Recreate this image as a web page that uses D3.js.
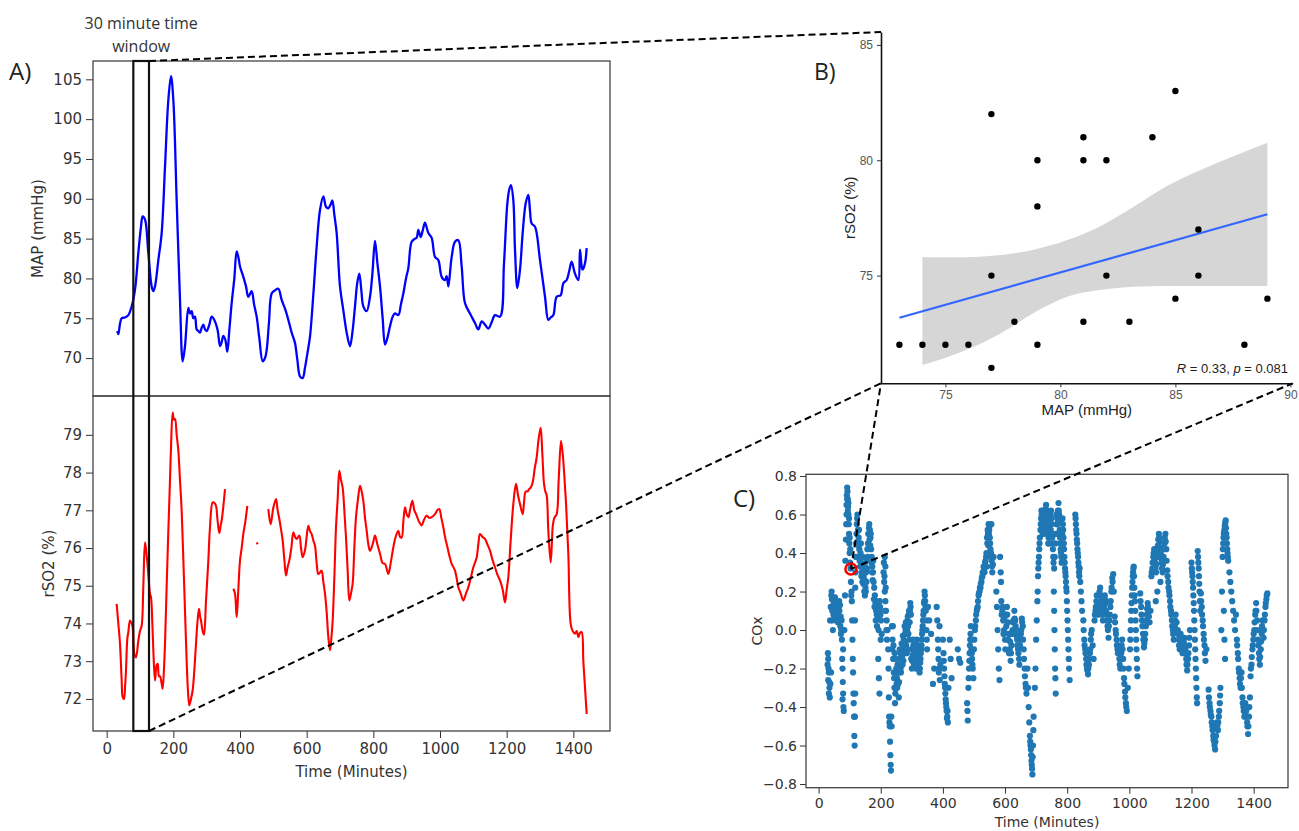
<!DOCTYPE html>
<html lang="en">
<head>
<meta charset="UTF-8">
<title>MAP, rSO2 and COx</title>
<script src="https://d3js.org/d3.v7.min.js"></script>
<style>
  body { margin: 0; background: #fff; }
  svg { display: block; }
  .tick text { font-family: 'DejaVu Sans', sans-serif; fill: #333; }
  .lbl { font-family: 'DejaVu Sans', sans-serif; fill: #333; }
  .gg .tick text { font-family: 'Liberation Sans', Arial, sans-serif; fill: #555; }
  .panel-tag { font-family: 'Open Sans', sans-serif; fill: #222; }
</style>
</head>
<body>
<div id="chart"></div>
<script>
// ---- Panel A: MAP and rSO2 over time [minute, value] ----
const mapSeries = [[32,73.4],[35,73.0],[40,74.3],[45,75.0],[55,75.1],[65,75.4],[75,76.5],[85,78.6],[95,83.2],[103,86.5],[108,87.8],[115,87.4],[125,83.2],[135,79.0],[140,78.4],[145,79.0],[155,82.3],[165,85.7],[175,94.0],[185,102.4],[193,105.4],[200,102.4],[210,89.8],[220,77.3],[228,69.6],[235,71.5],[245,76.3],[250,75.6],[255,75.9],[260,75.0],[265,75.2],[270,73.6],[275,73.4],[280,73.2],[285,73.8],[290,74.2],[295,73.6],[300,73.4],[308,74.2],[315,75.2],[325,74.6],[333,73.5],[340,71.5],[345,72.0],[350,72.8],[356,72.3],[362,70.8],[368,73.5],[375,76.9],[383,80.0],[390,83.4],[395,82.7],[400,81.5],[410,80.2],[418,79.0],[425,77.7],[435,78.4],[442,76.8],[450,75.2],[458,72.5],[468,69.6],[475,70.0],[480,71.0],[487,74.5],[495,78.1],[505,78.5],[515,78.7],[525,77.3],[535,76.2],[545,74.8],[555,73.2],[565,71.9],[572,69.8],[580,67.7],[588,67.5],[595,68.8],[603,70.8],[610,72.7],[620,78.0],[630,84.0],[640,88.6],[650,90.3],[658,89.0],[665,88.8],[672,89.3],[677,89.8],[683,88.0],[690,85.7],[700,79.0],[710,76.0],[720,73.2],[730,71.5],[738,73.5],[745,76.5],[752,79.5],[758,80.6],[764,78.5],[770,76.5],[780,75.9],[790,77.7],[797,80.5],[805,84.7],[812,82.0],[820,79.0],[828,75.0],[835,71.7],[842,72.5],[850,74.0],[858,75.2],[865,75.6],[875,75.4],[883,76.8],[890,78.1],[898,80.0],[905,81.3],[915,84.6],[925,85.0],[930,85.1],[935,86.1],[942,85.2],[948,86.0],[955,87.0],[965,85.7],[975,85.1],[985,82.7],[995,82.3],[1005,80.2],[1015,79.8],[1020,80.3],[1025,79.0],[1035,82.7],[1045,84.6],[1055,84.8],[1065,81.5],[1075,76.9],[1090,75.6],[1105,74.4],[1115,73.6],[1125,74.6],[1135,74.2],[1145,73.7],[1155,74.5],[1165,75.4],[1180,75.2],[1192,81.9],[1202,89.4],[1208,91.2],[1213,91.7],[1220,89.8],[1225,83.6],[1232,78.8],[1240,81.1],[1248,85.7],[1257,89.4],[1265,90.5],[1270,88.5],[1275,86.9],[1285,86.5],[1300,82.3],[1315,77.7],[1325,74.8],[1332,75.1],[1340,75.4],[1350,77.7],[1362,77.9],[1370,79.4],[1380,79.8],[1388,81.0],[1395,82.1],[1405,80.6],[1415,79.8],[1420,83.6],[1425,81.5],[1428,81.1],[1435,81.9],[1440,83.8]];

// null value = gap in recording
const rso2Series = [[30,74.52],[35,74.0],[40,73.46],[45,72.5],[48,72.05],[52,72.0],[55,72.3],[58,72.76],[62,73.6],[65,73.77],[70,74.08],[75,74.0],[78,73.9],[83,73.2],[88,73.1],[95,73.55],[100,73.8],[105,73.94],[110,75.0],[115,76.15],[120,75.8],[125,75.31],[130,74.79],[133,74.7],[137,74.0],[140,73.29],[145,72.49],[150,72.9],[153,72.93],[157,72.6],[160,72.6],[165,72.4],[168,72.27],[172,72.8],[175,73.46],[180,75.0],[185,76.45],[190,77.8],[193,78.66],[198,79.59],[202,79.4],[205,79.42],[210,79.0],[215,78.58],[220,77.8],[225,76.99],[230,75.7],[235,74.34],[240,73.0],[244,72.2],[248,71.83],[253,72.0],[258,72.23],[263,72.76],[268,73.46],[273,74.1],[277,74.39],[280,74.2],[283,74.08],[288,73.8],[292,73.7],[298,74.6],[305,75.67],[310,76.55],[318,77.21],[323,77.2],[328,77.12],[332,76.8],[335,76.55],[338,76.4],[342,76.6],[345,76.73],[350,77.1],[355,77.56],[356,null],[380,74.92],[385,74.79],[390,74.17],[395,74.9],[400,75.67],[405,76.0],[410,76.38],[416,76.7],[422,77.12],[423,null],[450,76.15],[453,76.1],[454,null],[485,77.03],[492,76.63],[500,77.07],[508,77.3],[513,77.0],[518,76.77],[523,76.5],[528,76.2],[533,75.7],[538,75.27],[543,75.5],[548,75.67],[554,76.0],[560,76.42],[565,76.3],[570,76.24],[578,76.33],[583,76.0],[588,75.76],[595,75.94],[600,76.3],[605,76.59],[610,76.45],[615,76.37],[620,76.2],[625,76.06],[630,75.6],[635,75.31],[640,75.35],[645,75.4],[650,75.1],[655,74.79],[660,74.3],[665,73.64],[670,73.29],[674,73.6],[678,74.08],[683,75.2],[688,76.55],[693,77.3],[698,78.05],[703,77.8],[708,77.6],[713,77.0],[718,76.28],[723,75.4],[728,74.61],[733,74.8],[738,75.06],[743,76.0],[748,76.82],[754,77.3],[760,77.65],[765,77.5],[770,77.25],[775,76.8],[780,76.46],[785,76.1],[790,75.93],[798,76.1],[805,76.33],[812,76.1],[820,75.85],[828,75.6],[835,75.58],[845,75.31],[852,75.6],[860,76.02],[867,76.3],[875,76.46],[880,76.3],[885,76.28],[890,76.7],[895,77.08],[900,76.9],[905,76.82],[910,77.0],[917,77.25],[923,77.0],[930,76.86],[937,76.7],[945,76.6],[952,76.75],[960,76.86],[967,76.8],[975,76.82],[985,76.9],[992,77.0],[998,77.03],[1004,76.8],[1010,76.55],[1015,76.3],[1020,76.11],[1028,75.8],[1035,75.58],[1040,75.5],[1045,75.4],[1050,75.2],[1055,74.96],[1062,74.8],[1070,74.61],[1078,74.8],[1085,74.96],[1092,75.2],[1100,75.49],[1110,75.75],[1115,76.1],[1120,76.37],[1127,76.3],[1135,76.24],[1142,76.1],[1150,75.93],[1157,75.7],[1165,75.49],[1172,75.3],[1180,75.14],[1188,74.9],[1195,74.56],[1200,74.9],[1205,75.23],[1212,76.2],[1220,77.17],[1228,77.7],[1234,77.4],[1240,77.17],[1248,76.9],[1252,77.2],[1257,77.5],[1263,77.5],[1267,77.56],[1272,77.6],[1278,77.74],[1284,78.1],[1290,78.4],[1296,78.9],[1302,79.19],[1307,78.5],[1312,77.7],[1316,77.5],[1320,77.4],[1325,76.46],[1332,75.62],[1336,76.2],[1338,76.55],[1343,76.8],[1350,76.9],[1356,77.8],[1363,78.84],[1368,78.5],[1372,78.05],[1378,77.2],[1385,75.84],[1392,73.99],[1398,73.8],[1405,73.73],[1410,73.8],[1415,73.64],[1420,73.75],[1425,73.77],[1430,73.0],[1435,72.31],[1440,71.6]];

const windowStart = 80, windowEnd = 127;   // 30 minute window (minutes)

// ---- Panel B: MAP vs rSO2 within the window ----
const bMAP  = [73,74,75,76,77,77,77,78,79,79,79,81,81,81,82,82,83,84,85,85,86,86,88,89];
const bRSO2 = [72,72,72,72,82,75,71,73,80,78,72,81,80,73,80,75,73,81,83,74,77,75,72,74];
const fitX = [73, 89], fitY = [73.17, 77.66];
const bandX  = [74, 75.9, 77.4, 78.8, 80.3, 81.7, 83.2, 84.6, 86.1, 87.5, 89];
const bandHi = [75.79, 75.8, 75.89, 76.11, 76.54, 77.12, 77.99, 78.86, 79.58, 80.16, 80.76];
const bandLo = [71.12, 71.77, 72.49, 73.36, 74.08, 74.37, 74.52, 74.55, 74.55, 74.55, 74.55];
const statText = ['R', ' = 0.33, ', 'p', ' = 0.081'];

// ---- Panel C: COx over time [minute, COx] ----
const coxSamples = [[30,-0.12],[31,-0.15],[32,-0.2],[33,-0.22],[34,-0.27],[35,-0.3],[36,-0.35],[38,-0.28],[40,-0.22],[42,0.2],[43,0.16],[44,0.1],[45,0.05],[46,0.0],
[48,0.08],[50,0.12],[52,0.15],[54,0.1],[56,0.06],[58,0.13],[60,0.09],[62,0.04],[64,0.11],[66,0.15],[68,0.07],[70,0.02],[72,-0.02],[74,0.05],
[76,-0.15],[77,-0.2],[78,-0.27],[79,-0.33],[80,-0.4],[81,-0.42],[83,0.0],[85,0.18],[86,0.36],[88,0.47],[90,0.6],[91,0.7],[92,0.74],[93,0.72],[94,0.68],[95,0.64],[96,0.6],[97,0.55],[98,0.5],[99,0.45],[100,0.4],[101,0.35],[103,0.32],
[106,0.2],[107,0.15],[108,0.05],[109,-0.05],[110,-0.15],[111,-0.22],[112,-0.33],[113,-0.38],[114,-0.45],[115,-0.55],[116,-0.6],
[119,0.3],[121,0.45],[123,0.55],[125,0.6],[127,0.52],[129,0.48],[131,0.42],[133,0.38],[135,0.4],[137,0.35],[139,0.3],
[141,0.25],[143,0.32],[145,0.28],[147,0.2],[149,0.18],[151,0.22],[153,0.3],[155,0.36],[157,0.42],[159,0.45],
[161,0.5],[163,0.55],[165,0.52],[167,0.48],[169,0.42],[171,0.38],[173,0.33],[175,0.3],[177,0.25],[179,0.22],
[181,0.18],[183,0.14],[185,0.1],[187,0.08],[189,0.12],[191,0.06],[193,0.0],[195,0.1],[197,0.15],[199,0.08],[201,0.05],[203,-0.02],[192,-0.15],[194,-0.25],[196,-0.33],
[209,0.3],[211,0.25],[213,0.2],[215,0.15],[217,0.1],[219,0.05],[213,0.38],[215,0.33],[222,0.0],
[224,-0.1],[225,-0.2],[226,-0.35],[227,-0.45],[228,-0.48],[229,-0.5],[230,-0.58],[231,-0.65],[232,-0.7],[233,-0.73],
[236,0.02],[238,-0.05],[240,-0.15],[242,-0.22],[244,-0.3],[246,-0.38],[248,-0.3],[250,-0.2],[252,-0.25],[254,-0.18],[256,-0.28],[258,-0.35],[260,-0.22],[262,-0.15],
[264,-0.2],[266,-0.15],[268,-0.1],[270,-0.18],[272,-0.12],[274,-0.05],[276,-0.1],[278,-0.02],[280,0.0],[282,-0.08],[284,-0.12],[286,0.05],[288,0.02],[290,0.08],[292,-0.05],[294,0.1],[296,0.12],[298,-0.15],[300,-0.2],[302,-0.1],[304,-0.05],
[306,-0.1],[308,-0.15],[310,-0.12],[312,-0.18],[314,-0.1],[316,-0.05],[318,-0.12],[320,-0.15],[322,-0.08],[324,-0.12],[326,-0.2],[328,-0.15],[330,-0.1],[332,-0.05],[334,0.0],[336,0.05],[338,0.1],[340,0.15],[342,0.18],[344,0.12],[346,0.05],[348,-0.05],
[352,0.12],[356,0.05],[362,-0.02],[368,-0.28],[372,-0.2],
[380,0.12],[382,0.05],[384,-0.05],[386,-0.15],[388,-0.2],[390,-0.26],[392,-0.18],
[400,-0.05],[402,-0.12],[404,-0.2],[406,-0.28],[408,-0.33],[410,-0.38],[412,-0.42],[414,-0.45],[416,-0.48],[418,-0.3],[422,-0.05],[425,-0.15],[428,-0.25],
[448,-0.1],[452,-0.15],[456,-0.17],
[478,-0.38],[480,-0.47],[482,-0.3],[484,-0.2],[486,-0.12],[488,-0.05],[490,0.02],[492,-0.1],[494,-0.15],[496,-0.2],[498,-0.25],
[500,-0.1],[503,0.0],[506,0.05],[509,0.1],[512,0.12],[515,0.18],[518,0.2],[521,0.22],[524,0.25],[527,0.28],[530,0.3],[533,0.32],[536,0.35],[539,0.38],[541,0.33],
[543,0.45],[545,0.5],[547,0.55],[549,0.52],[551,0.48],[553,0.42],[555,0.4],[557,0.36],[559,0.3],[561,0.34],[563,0.38],[550,0.54],[556,0.55],
[572,0.2],[574,0.12],[576,0.0],[578,-0.1],[580,-0.2],[582,-0.26],[584,0.38],[586,0.3],
[588,0.15],[591,0.1],[594,0.05],[597,0.0],[600,-0.05],[603,0.08],[606,0.12],[609,0.04],[612,-0.02],[615,-0.1],[618,-0.16],[621,-0.08],[624,0.0],[627,0.05],
[630,0.1],[633,0.05],[636,0.0],[639,-0.05],[642,-0.1],[645,-0.15],[648,-0.08],[651,-0.02],[654,0.06],[657,0.02],[660,-0.1],[663,-0.2],[666,-0.28],[669,-0.33],
[672,-0.2],[674,-0.3],[676,-0.4],[678,-0.48],[680,-0.55],[682,-0.6],[684,-0.65],[686,-0.7],[688,-0.75],[690,-0.6],[692,-0.45],
[696,-0.3],[698,-0.2],[700,-0.05],[702,0.05],[704,0.15],[706,0.28],[708,0.35],[710,0.42],[712,0.48],
[714,0.52],[716,0.58],[718,0.6],[720,0.55],[722,0.62],[724,0.58],[726,0.5],[728,0.55],[730,0.6],[732,0.65],[734,0.62],[736,0.57],[738,0.52],[740,0.48],[742,0.45],[744,0.52],[746,0.58],[748,0.62],[750,0.55],[752,0.48],[754,0.42],[756,0.35],[758,0.32],[760,0.38],[762,0.45],[764,0.5],[766,0.55],[768,0.58],[770,0.62],[772,0.66],[774,0.6],[776,0.52],
[757,0.2],[758,0.1],[759,0.0],[760,-0.1],[761,-0.2],[762,-0.25],[763,-0.33],
[778,0.45],[780,0.4],[782,0.35],[784,0.5],[786,0.55],[788,0.48],[790,0.42],[792,0.35],[794,0.3],[796,0.25],[798,0.2],[800,0.1],[802,0.0],[804,-0.1],[806,-0.2],[808,-0.26],
[826,0.6],[828,0.55],[830,0.5],[832,0.45],[834,0.4],[836,0.35],[838,0.3],[840,0.32],[842,0.25],[844,0.2],[846,0.15],[848,0.1],
[852,0.05],[855,-0.05],[858,-0.1],[861,-0.15],[864,-0.2],[867,-0.23],[870,-0.18],[873,-0.12],[876,-0.05],[879,0.0],[882,-0.08],[885,-0.15],
[888,0.05],[891,0.1],[894,0.15],[897,0.12],[900,0.08],[903,0.18],[906,0.22],[909,0.15],[912,0.1],[915,0.05],[918,0.12],[921,0.18],[924,0.14],[927,0.08],[930,0.02],[933,-0.04],[936,0.05],[939,0.12],[942,0.2],[945,0.27],[948,0.29],[950,0.2],
[953,0.07],[956,0.0],[959,-0.05],[962,-0.1],[965,-0.08],[968,-0.15],[971,-0.2],[974,-0.12],[977,-0.05],[980,-0.15],[983,-0.25],[986,-0.32],[989,-0.38],[992,-0.42],[995,-0.3],[998,-0.2],
[1002,-0.1],[1004,0.0],[1006,0.1],[1008,0.18],[1010,0.25],[1012,0.3],[1014,0.33],[1016,0.22],[1018,0.15],[1020,0.05],[1022,-0.05],[1024,-0.15],[1026,-0.24],
[1035,0.19],[1038,0.12],[1041,0.05],[1044,-0.02],[1047,-0.09],[1050,-0.05],[1053,0.02],[1056,0.08],[1059,0.14],[1062,0.1],[1065,0.04],[1068,0.1],
[1071,0.28],[1074,0.32],[1077,0.38],[1080,0.42],[1083,0.35],[1086,0.3],[1089,0.38],[1092,0.44],[1095,0.5],[1098,0.46],[1101,0.4],[1104,0.35],[1107,0.3],[1110,0.38],[1113,0.45],[1116,0.5],[1119,0.42],[1085,0.15],[1090,0.2],[1100,0.25],
[1122,0.31],[1125,0.25],[1128,0.2],[1131,0.15],[1134,0.1],[1137,0.05],[1140,0.0],[1143,-0.05],[1146,0.02],[1149,0.08],[1152,0.04],
[1156,0.0],[1159,-0.05],[1162,-0.1],[1165,-0.02],[1168,-0.06],[1171,-0.12],[1174,-0.08],[1177,-0.04],[1180,-0.1],[1183,-0.15],[1186,-0.21],[1189,-0.15],[1192,-0.08],[1195,0.0],
[1200,0.35],[1202,0.3],[1204,0.25],[1206,0.18],[1208,0.1],[1210,0.0],[1212,-0.1],[1214,-0.2],[1216,-0.3],[1218,-0.38],[1220,0.41],[1222,0.35],[1224,0.28],[1226,0.2],[1228,0.1],
[1230,0.19],[1233,0.12],[1236,0.05],[1239,-0.02],[1242,-0.08],[1245,-0.16],[1248,-0.1],
[1255,-0.31],[1258,-0.38],[1261,-0.42],[1264,-0.45],[1267,-0.5],[1270,-0.55],[1273,-0.58],[1276,-0.62],[1279,-0.55],[1282,-0.48],[1285,-0.52],[1288,-0.45],[1291,-0.38],[1293,-0.3],
[1296,0.0],[1298,0.2],[1300,0.38],[1302,0.45],[1304,0.5],[1306,0.52],[1308,0.55],[1310,0.57],[1312,0.5],[1314,0.45],[1316,0.4],[1318,0.36],[1304,0.1],[1306,-0.05],[1308,-0.15],
[1322,0.3],[1325,0.25],[1328,0.2],[1331,0.15],[1334,0.1],[1337,0.05],[1340,0.0],[1343,0.08],
[1346,-0.05],[1349,-0.12],[1352,-0.2],[1355,-0.25],[1358,-0.3],[1361,-0.22],[1364,-0.35],[1367,-0.4],[1370,-0.45],[1373,-0.38],[1376,-0.42],[1379,-0.48],[1382,-0.54],[1385,-0.45],[1388,-0.35],
[1390,-0.24],[1393,-0.18],[1396,-0.1],[1399,-0.05],[1402,0.0],[1405,0.08],[1408,0.14],[1411,0.05],[1414,-0.05],[1417,-0.12],[1420,-0.18],[1423,-0.1],[1426,-0.02],[1429,0.05],
[1432,-0.04],[1435,0.05],[1438,0.12],[1441,0.16],[1444,0.19],
// denser fill of the same streaks
[29,-0.18],[31,-0.26],[33,-0.33],[37,0.05],[39,0.12],[41,0.18],[47,0.12],[49,0.14],[51,0.06],[53,0.17],[55,0.12],[57,0.09],[59,0.05],[61,0.13],[63,0.08],[65,0.05],[67,0.1],[69,0.13],[71,0.07],[73,0.0],[75,-0.05],[77,-0.36],[79,-0.1],
[89,0.55],[90,0.65],[92,0.68],[94,0.62],[96,0.66],[98,0.58],[100,0.48],[102,0.42],[104,0.25],[105,0.18],[117,-0.45],[118,-0.33],[117,0.05],[118,0.22],
[120,0.38],[122,0.5],[124,0.58],[126,0.46],[128,0.44],[130,0.52],[132,0.36],[134,0.33],[136,0.45],[138,0.28],[140,0.34],[142,0.38],[144,0.24],[146,0.3],[148,0.26],[150,0.33],[152,0.2],[154,0.25],[156,0.32],[158,0.38],[160,0.5],[162,0.53],[164,0.47],[166,0.44],[168,0.5],[170,0.35],[172,0.3],[174,0.26],[176,0.36],[178,0.16],[180,0.12],
[184,0.05],[186,0.15],[188,0.02],[190,0.1],[198,0.12],[200,-0.05],[210,0.35],[212,0.28],[214,0.1],[216,0.22],[218,0.0],[220,-0.05],
[234,-0.45],[235,-0.5],[237,-0.1],[239,0.02],[241,-0.08],[243,-0.25],[245,-0.12],[247,-0.33],[249,-0.15],[251,-0.28],[253,-0.3],[255,-0.22],[257,-0.2],[259,-0.27],[261,-0.1],
[263,-0.12],[265,-0.22],[267,-0.07],[269,-0.14],[271,-0.03],[273,-0.16],[275,-0.08],[277,0.02],[279,-0.06],[281,0.04],[283,-0.1],[285,0.0],[287,0.07],[289,-0.02],[291,0.1],[293,0.04],[295,0.14],[297,0.08],[299,-0.1],[301,-0.16],[303,-0.13],[305,-0.08],[307,-0.18],[309,-0.06],[311,-0.14],[313,-0.2],[315,-0.15],[317,-0.08],[319,-0.18],[321,-0.1],[323,-0.14],[325,-0.22],[327,-0.17],[329,-0.12],[331,-0.08],[333,-0.02],[335,0.02],[337,0.08],[339,0.14],[341,0.2],[343,0.15],[345,0.1],[347,0.0],[349,-0.1],
[385,-0.1],[387,-0.22],[389,0.02],[403,-0.16],[405,-0.24],[407,-0.3],[409,-0.36],[411,-0.4],[413,-0.46],[415,-0.42],
[479,-0.42],[483,-0.25],[485,-0.16],[487,-0.08],[489,-0.02],[491,-0.05],[493,-0.12],[495,-0.18],
[501,-0.05],[504,0.02],[507,0.08],[510,0.11],[513,0.15],[516,0.19],[519,0.22],[522,0.24],[525,0.27],[528,0.3],[531,0.33],[534,0.3],[537,0.36],[540,0.4],[542,0.48],[544,0.52],[546,0.44],[548,0.5],[552,0.45],[554,0.38],[558,0.33],
[587,0.25],[589,0.08],[592,0.12],[595,-0.02],[598,0.06],[601,-0.1],[604,0.02],[607,0.08],[610,-0.05],[613,-0.12],[616,-0.06],[619,-0.12],[622,-0.02],[625,0.04],
[631,0.06],[634,0.02],[637,-0.03],[640,-0.08],[643,-0.12],[646,-0.18],[649,-0.05],[652,0.0],[655,0.04],[658,-0.05],[661,-0.15],[664,-0.24],[667,-0.3],
[681,-0.58],[683,-0.62],[685,-0.68],[687,-0.72],[689,-0.66],[691,-0.52],[705,0.2],[707,0.32],[709,0.38],[711,0.45],
[715,0.55],[717,0.62],[719,0.57],[721,0.5],[723,0.6],[725,0.54],[727,0.62],[729,0.52],[731,0.63],[733,0.6],[735,0.55],[737,0.5],[739,0.45],[741,0.5],[743,0.55],[745,0.6],[747,0.52],[749,0.58],[751,0.5],[753,0.45],[755,0.38],[765,0.6],[767,0.5],[769,0.55],[771,0.58],[773,0.62],[775,0.56],[777,0.48],
[779,0.42],[781,0.38],[783,0.45],[785,0.58],[787,0.52],[789,0.45],[791,0.38],[793,0.32],[795,0.28],[797,0.22],[799,0.15],[801,0.05],[803,-0.05],[805,-0.15],
[827,0.58],[829,0.52],[831,0.47],[833,0.42],[835,0.38],[837,0.33],[839,0.28],
[853,0.0],[856,-0.08],[859,-0.12],[862,-0.18],[865,-0.21],[868,-0.2],[871,-0.15],[874,-0.1],[877,-0.02],
[889,0.08],[892,0.12],[895,0.18],[898,0.1],[901,0.14],[904,0.2],[907,0.18],[910,0.12],[913,0.08],[916,0.1],[919,0.15],[922,0.16],[925,0.1],[928,0.05],[931,0.0],[934,0.02],[937,0.08],[940,0.15],[943,0.22],[946,0.25],
[954,0.04],[957,-0.02],[960,-0.08],[963,-0.12],[966,-0.1],[969,-0.18],[972,-0.15],[975,-0.08],[978,-0.1],[981,-0.2],[984,-0.28],[987,-0.35],[990,-0.4],
[1003,-0.05],[1005,0.05],[1007,0.14],[1009,0.22],[1011,0.28],[1013,0.32],[1015,0.28],[1017,0.18],[1019,0.1],[1021,0.0],[1023,-0.1],[1025,-0.2],
[1036,0.15],[1039,0.08],[1042,0.02],[1045,-0.05],[1048,-0.07],[1051,-0.02],[1054,0.05],[1057,0.11],[1060,0.12],[1063,0.07],
[1072,0.3],[1075,0.35],[1078,0.4],[1081,0.38],[1084,0.32],[1087,0.34],[1090,0.41],[1093,0.47],[1096,0.48],[1099,0.43],[1102,0.37],[1105,0.32],[1108,0.34],[1111,0.42],[1114,0.48],[1117,0.46],[1120,0.36],
[1123,0.28],[1126,0.22],[1129,0.18],[1132,0.12],[1135,0.08],[1138,0.02],[1141,-0.02],[1144,0.0],[1147,0.05],
[1157,-0.02],[1160,-0.08],[1163,-0.05],[1166,-0.04],[1169,-0.1],[1172,-0.1],[1175,-0.06],[1178,-0.08],[1181,-0.12],[1184,-0.18],[1187,-0.18],[1190,-0.12],[1193,-0.04],
[1201,0.32],[1203,0.28],[1205,0.22],[1207,0.14],[1209,0.05],[1211,-0.05],[1213,-0.15],[1215,-0.25],[1217,-0.35],[1221,0.38],[1223,0.32],[1225,0.24],[1227,0.15],
[1231,0.15],[1234,0.08],[1237,0.02],[1240,-0.05],[1243,-0.12],
[1256,-0.35],[1259,-0.4],[1262,-0.44],[1265,-0.48],[1268,-0.52],[1271,-0.57],[1274,-0.6],[1277,-0.58],[1280,-0.5],[1283,-0.5],[1286,-0.48],[1289,-0.42],[1292,-0.34],
[1301,0.42],[1303,0.48],[1305,0.51],[1307,0.54],[1309,0.56],[1311,0.53],[1313,0.48],[1315,0.42],[1317,0.38],
[1347,-0.08],[1350,-0.15],[1353,-0.22],[1356,-0.28],[1359,-0.25],[1362,-0.3],[1365,-0.38],[1368,-0.42],[1371,-0.4],[1374,-0.4],[1377,-0.45],[1380,-0.5],[1383,-0.5],[1386,-0.4],
[1391,-0.2],[1394,-0.14],[1397,-0.08],[1400,-0.02],[1403,0.04],[1406,0.1],[1409,0.1],[1412,0.0],[1415,-0.08],[1418,-0.15],[1421,-0.14],[1424,-0.06],[1427,0.02],[1430,0.0],
[1433,0.0],[1436,0.08],[1439,0.14],[1442,0.18]];
const pickTime = 104, pickCox = 0.317;   // highlighted window value

const timeTicks = [0, 200, 400, 600, 800, 1000, 1200, 1400];

const W = 1299, H = 831;
const svg = d3.select('#chart').append('svg').attr('width', W).attr('height', H);

// ===== Panel A =====
const xA = d3.scaleLinear().domain([-41, 1510]).range([93, 610]);
const yMAP = d3.scaleLinear().domain([65.24, 107.3]).range([396, 61]);
const yRS = d3.scaleLinear().domain([71.15, 80.03]).range([731, 396]);

const gA = svg.append('g');
gA.append('g').attr('transform', `translate(${xA.range()[0]},0)`)
  .call(d3.axisLeft(yMAP).tickValues(d3.range(70, 106, 5)).tickSize(7).tickPadding(4))
  .call(g => g.select('.domain').remove())
  .call(g => g.selectAll('.tick line').attr('stroke', '#333'))
  .call(g => g.selectAll('.tick text').style('font-size', '15px'));
gA.append('g').attr('transform', `translate(${xA.range()[0]},0)`)
  .call(d3.axisLeft(yRS).tickValues(d3.range(72, 80, 1)).tickSize(7).tickPadding(4))
  .call(g => g.select('.domain').remove())
  .call(g => g.selectAll('.tick line').attr('stroke', '#333'))
  .call(g => g.selectAll('.tick text').style('font-size', '15px'));
gA.append('g').attr('transform', `translate(0,${yRS.range()[0]})`)
  .call(d3.axisBottom(xA).tickValues(timeTicks).tickFormat(d3.format('d')).tickSize(7).tickPadding(5))
  .call(g => g.select('.domain').remove())
  .call(g => g.selectAll('.tick line').attr('stroke', '#333'))
  .call(g => g.selectAll('.tick text').style('font-size', '15px'));

const lineMAP = d3.line().curve(d3.curveCatmullRom.alpha(0.5)).x(d => xA(d[0])).y(d => yMAP(d[1]));
const lineRS = d3.line().curve(d3.curveCatmullRom.alpha(0.5)).defined(d => d[1] !== null).x(d => xA(d[0])).y(d => yRS(d[1]));
gA.append('path').datum(mapSeries).attr('d', lineMAP)
  .attr('fill', 'none').attr('stroke', '#0000ff').attr('stroke-width', 2.3).attr('stroke-linejoin', 'round');
gA.append('path').datum(rso2Series).attr('d', lineRS)
  .attr('fill', 'none').attr('stroke', '#ff0000').attr('stroke-width', 2.1).attr('stroke-linejoin', 'round');
// the isolated rSO2 sample
gA.selectAll('circle.iso').data(rso2Series.filter((d, i, a) =>
    d[1] !== null && (i === 0 || a[i - 1][1] === null) && (i === a.length - 1 || a[i + 1][1] === null)))
  .join('circle').attr('class', 'iso')
  .attr('cx', d => xA(d[0])).attr('cy', d => yRS(d[1])).attr('r', 1.3).attr('fill', '#ff0000');

// frames
gA.append('rect').attr('x', xA.range()[0]).attr('y', yMAP.range()[1])
  .attr('width', xA.range()[1] - xA.range()[0]).attr('height', yMAP.range()[0] - yMAP.range()[1])
  .attr('fill', 'none').attr('stroke', '#444').attr('stroke-width', 1.3);
gA.append('rect').attr('x', xA.range()[0]).attr('y', yRS.range()[1])
  .attr('width', xA.range()[1] - xA.range()[0]).attr('height', yRS.range()[0] - yRS.range()[1])
  .attr('fill', 'none').attr('stroke', '#444').attr('stroke-width', 1.3);

// 30-minute window box
gA.append('rect').attr('x', xA(windowStart)).attr('y', yMAP.range()[1])
  .attr('width', xA(windowEnd) - xA(windowStart)).attr('height', yRS.range()[0] - yMAP.range()[1])
  .attr('fill', 'none').attr('stroke', '#111').attr('stroke-width', 2.2);

gA.append('text').attr('class', 'lbl').attr('transform', `translate(43,${(yMAP.range()[0] + yMAP.range()[1]) / 2}) rotate(-90)`)
  .attr('text-anchor', 'middle').style('font-size', '15px').text('MAP (mmHg)');
gA.append('text').attr('class', 'lbl').attr('transform', `translate(54,${(yRS.range()[0] + yRS.range()[1]) / 2}) rotate(-90)`)
  .attr('text-anchor', 'middle').style('font-size', '15px').text('rSO2 (%)');
gA.append('text').attr('class', 'lbl').attr('x', (xA.range()[0] + xA.range()[1]) / 2).attr('y', 777)
  .attr('text-anchor', 'middle').style('font-size', '15px').text('Time (Minutes)');

const winLbl = svg.append('text').attr('class', 'panel-tag').attr('text-anchor', 'middle')
  .style('font-size', '16px').style('fill', '#333');
winLbl.append('tspan').attr('x', (xA(windowStart) + xA(windowEnd)) / 2).attr('y', 29).text('30 minute time');
winLbl.append('tspan').attr('x', (xA(windowStart) + xA(windowEnd)) / 2).attr('y', 52).text('window');
svg.append('text').attr('class', 'panel-tag').attr('x', 9).attr('y', 80).style('font-size', '24px').text('A)');

// ===== Panel B =====
const xB = d3.scaleLinear().domain([72.2, 90.1]).range([881, 1292.7]);
const yB = d3.scaleLinear().domain([70.33, 85.56]).range([383.3, 32]);
const gB = svg.append('g').attr('class', 'gg');

const band = d3.area().curve(d3.curveMonotoneX)
  .x(d => xB(d.x)).y0(d => yB(d.lo)).y1(d => yB(d.hi));
gB.append('path').datum(bandX.map((x, i) => ({ x, lo: bandLo[i], hi: bandHi[i] })))
  .attr('d', band).attr('fill', '#d6d6d6');
gB.append('line').attr('x1', xB(fitX[0])).attr('y1', yB(fitY[0])).attr('x2', xB(fitX[1])).attr('y2', yB(fitY[1]))
  .attr('stroke', '#3366ff').attr('stroke-width', 2.2);
gB.selectAll('circle.pt').data(bMAP.map((m, i) => [m, bRSO2[i]])).join('circle').attr('class', 'pt')
  .attr('cx', d => xB(d[0])).attr('cy', d => yB(d[1])).attr('r', 3.2).attr('fill', '#000');

gB.append('g').attr('transform', `translate(${xB.range()[0]},0)`)
  .call(d3.axisLeft(yB).tickValues([75, 80, 85]).tickSize(4).tickPadding(4).tickSizeOuter(0))
  .call(g => g.select('.domain').attr('stroke', '#111').attr('stroke-width', 1.6))
  .call(g => g.selectAll('.tick line').attr('stroke', '#333'))
  .call(g => g.selectAll('.tick text').style('font-size', '12px'));
gB.append('g').attr('transform', `translate(0,${yB.range()[0]})`)
  .call(d3.axisBottom(xB).tickValues([75, 80, 85, 90]).tickSize(4).tickPadding(3).tickSizeOuter(0))
  .call(g => g.select('.domain').attr('stroke', '#111').attr('stroke-width', 1.6))
  .call(g => g.selectAll('.tick line').attr('stroke', '#333'))
  .call(g => g.selectAll('.tick text').style('font-size', '12px'));

gB.append('text').attr('transform', `translate(855,${(yB.range()[0] + yB.range()[1]) / 2}) rotate(-90)`)
  .attr('text-anchor', 'middle').style('font-family', "'Liberation Sans', Arial, sans-serif")
  .style('font-size', '15px').style('fill', '#222').text('rSO2 (%)');
gB.append('text').attr('x', (xB.range()[0] + xB.range()[1]) / 2).attr('y', 415)
  .attr('text-anchor', 'middle').style('font-family', "'Liberation Sans', Arial, sans-serif")
  .style('font-size', '15px').style('fill', '#222').text('MAP (mmHg)');
const st = gB.append('text').attr('x', 1288).attr('y', 373).attr('text-anchor', 'end')
  .style('font-family', "'Liberation Sans', Arial, sans-serif").style('font-size', '13px').style('fill', '#222');
statText.forEach((s, i) => st.append('tspan').style('font-style', i % 2 === 0 ? 'italic' : 'normal').text(s));
svg.append('text').attr('class', 'panel-tag').attr('x', 814).attr('y', 80).style('font-size', '23px').text('B)');

// ===== Panel C =====
const xC = d3.scaleLinear().domain([-40.5, 1510.5]).range([806, 1288]);
const yC = d3.scaleLinear().domain([-0.819, 0.809]).range([787.7, 474.3]);
const gC = svg.append('g');
gC.append('g').attr('transform', `translate(${xC.range()[0]},0)`)
  .call(d3.axisLeft(yC).tickValues(d3.range(-0.8, 0.81, 0.2)).tickFormat(d3.format('.1f')).tickSize(6).tickPadding(3))
  .call(g => g.select('.domain').remove())
  .call(g => g.selectAll('.tick line').attr('stroke', '#333'))
  .call(g => g.selectAll('.tick text').style('font-size', '14px'));
gC.append('g').attr('transform', `translate(0,${yC.range()[0]})`)
  .call(d3.axisBottom(xC).tickValues(timeTicks).tickFormat(d3.format('d')).tickSize(6).tickPadding(4))
  .call(g => g.select('.domain').remove())
  .call(g => g.selectAll('.tick line').attr('stroke', '#333'))
  .call(g => g.selectAll('.tick text').style('font-size', '14px'));

gC.selectAll('circle.cx').data(coxSamples).join('circle').attr('class', 'cx')
  .attr('cx', d => xC(d[0])).attr('cy', d => yC(d[1])).attr('r', 3.1).attr('fill', '#1f77b4');
gC.append('rect').attr('x', xC.range()[0]).attr('y', yC.range()[1])
  .attr('width', xC.range()[1] - xC.range()[0]).attr('height', yC.range()[0] - yC.range()[1])
  .attr('fill', 'none').attr('stroke', '#444').attr('stroke-width', 1.3);

gC.append('text').attr('class', 'lbl').attr('transform', `translate(762,${(yC.range()[0] + yC.range()[1]) / 2}) rotate(-90)`)
  .attr('text-anchor', 'middle').style('font-size', '14px').text('COx');
gC.append('text').attr('class', 'lbl').attr('x', (xC.range()[0] + xC.range()[1]) / 2).attr('y', 827)
  .attr('text-anchor', 'middle').style('font-size', '14px').text('Time (Minutes)');
svg.append('text').attr('class', 'panel-tag').attr('x', 733).attr('y', 507).style('font-size', '24px').text('C)');

// ===== connectors =====
const dashed = (x1, y1, x2, y2) => svg.append('line')
  .attr('x1', x1).attr('y1', y1).attr('x2', x2).attr('y2', y2)
  .attr('stroke', '#000').attr('stroke-width', 2).attr('stroke-dasharray', '7,4');
dashed(xA(windowEnd), yMAP.range()[1], xB.range()[0], yB.range()[1]);
dashed(xA(windowEnd), yRS.range()[0], xB.range()[0], yB.range()[0]);
dashed(xC(pickTime), yC(pickCox), xB.range()[0], yB.range()[0]);
dashed(xC(pickTime), yC(pickCox), xB.range()[1], yB.range()[0]);

svg.append('circle').attr('cx', xC(pickTime)).attr('cy', yC(pickCox)).attr('r', 5.5)
  .attr('fill', 'none').attr('stroke', '#ff0000').attr('stroke-width', 2.5);
</script>
</body>
</html>
